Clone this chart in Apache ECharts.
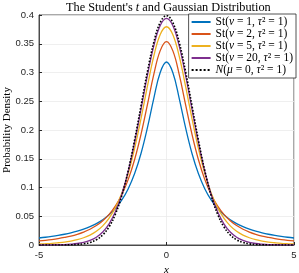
<!DOCTYPE html>
<html><head><meta charset="utf-8">
<script src="https://cdn.jsdelivr.net/npm/echarts@6/dist/echarts.min.js"></script>
<style>html,body{margin:0;padding:0;background:#fff}#c{width:299px;height:273px}</style>
</head><body><div id="c"></div>
<script>
var xs = [-5,-4.75,-4.5,-4.25,-4,-3.75,-3.5,-3.25,-3,-2.75,-2.5,-2.25,-2,-1.75,-1.5,-1.25,-1,-0.75,-0.5,-0.25,0,0.25,0.5,0.75,1,1.25,1.5,1.75,2,2.25,2.5,2.75,3,3.25,3.5,3.75,4,4.25,4.5,4.75,5];
var st1 = [0.0122,0.0135,0.0150,0.0167,0.0187,0.0211,0.0240,0.0275,0.0318,0.0372,0.0439,0.0525,0.0637,0.0784,0.0979,0.1242,0.1592,0.2037,0.2546,0.2996,0.3183,0.2996,0.2546,0.2037,0.1592,0.1242,0.0979,0.0784,0.0637,0.0525,0.0439,0.0372,0.0318,0.0275,0.0240,0.0211,0.0187,0.0167,0.0150,0.0135,0.0122];
var st2 = [0.0071,0.0082,0.0095,0.0111,0.0131,0.0155,0.0186,0.0225,0.0274,0.0338,0.0422,0.0533,0.0680,0.0878,0.1141,0.1487,0.1925,0.2438,0.2963,0.3376,0.3536,0.3376,0.2963,0.2438,0.1925,0.1487,0.1141,0.0878,0.0680,0.0533,0.0422,0.0338,0.0274,0.0225,0.0186,0.0155,0.0131,0.0111,0.0095,0.0082,0.0071];
var st5 = [0.0018,0.0023,0.0029,0.0039,0.0051,0.0069,0.0092,0.0126,0.0173,0.0239,0.0333,0.0466,0.0651,0.0905,0.1245,0.1679,0.2197,0.2757,0.3279,0.3657,0.3796,0.3657,0.3279,0.2757,0.2197,0.1679,0.1245,0.0905,0.0651,0.0466,0.0333,0.0239,0.0173,0.0126,0.0092,0.0069,0.0051,0.0039,0.0029,0.0023,0.0018];
var st20 = [0.0001,0.0001,0.0003,0.0005,0.0008,0.0015,0.0026,0.0046,0.0080,0.0136,0.0227,0.0369,0.0581,0.0883,0.1286,0.1788,0.2360,0.2944,0.3458,0.3813,0.3940,0.3813,0.3458,0.2944,0.2360,0.1788,0.1286,0.0883,0.0581,0.0369,0.0227,0.0136,0.0080,0.0046,0.0026,0.0015,0.0008,0.0005,0.0003,0.0001,0.0001];
var gauss = [0.0000,0.0000,0.0000,0.0000,0.0001,0.0004,0.0009,0.0020,0.0044,0.0091,0.0175,0.0317,0.0540,0.0863,0.1295,0.1826,0.2420,0.3011,0.3521,0.3867,0.3989,0.3867,0.3521,0.3011,0.2420,0.1826,0.1295,0.0863,0.0540,0.0317,0.0175,0.0091,0.0044,0.0020,0.0009,0.0004,0.0001,0.0000,0.0000,0.0000,0.0000];
var names = ['St1','St2','St5','St20','Norm'];
var labels = {
  St1: '{r|St(}{i|ν}{r| = 1, }{i|τ}{r|² = 1)}',
  St2: '{r|St(}{i|ν}{r| = 2, }{i|τ}{r|² = 1)}',
  St5: '{r|St(}{i|ν}{r| = 5, }{i|τ}{r|² = 1)}',
  St20: '{r|St(}{i|ν}{r| = 20, }{i|τ}{r|² = 1)}',
  Norm: '{i|N}{r|(}{i|μ}{r| = 0, }{i|τ}{r|² = 1)}'
};
var seriesData = [st1, st2, st5, st20, gauss];
var colors = ['#0072BD','#D95319','#EDB120','#7E2F8E','#000000'];
var yMax = 0.4;
var yTitle = 'Probability Density';

function pairs(ys){ return xs.map(function(x,i){ return [x, ys[i]]; }); }

var serif = 'Liberation Serif';
var chart = echarts.init(document.getElementById('c'), null, {renderer:'canvas'});
chart.setOption({
  animation: false,
  color: colors,
  title: {
    text: '{a|The Student\'s }{b|t}{a| and Gaussian Distribution}',
    left: 61, top: -3,
    textStyle: { fontWeight: 'normal', rich: {
      a: {fontFamily: serif, fontSize: 12.3, fontWeight: 'normal', color: '#000'},
      b: {fontFamily: serif, fontSize: 12.3, fontWeight: 'normal', fontStyle: 'italic', color: '#000'}
    }}
  },
  graphic: [{
    type: 'text', x: 7, y: 130, rotation: Math.PI / 2,
    style: { text: yTitle, font: '11px "Liberation Serif"', fill: '#000', align: 'center', verticalAlign: 'middle' }
  }],
  grid: { left: 39, right: 5, top: 15, bottom: 28, outerBoundsMode: 'none', containLabel: false, show: true, borderColor: '#262626', borderWidth: 0.8, backgroundColor: 'transparent' },
  legend: {
    orient: 'vertical', right: 3, top: 14,
    data: names,
    itemWidth: 19, itemHeight: 9, itemGap: 0,
    padding: [2, 3, 2, 2],
    borderColor: '#262626', borderWidth: 0.8, backgroundColor: '#fff',
    itemStyle: {opacity: 0},
    formatter: function(n){ return labels[n]; },
    textStyle: { rich: {
      r: {fontFamily: serif, fontSize: 11.5, lineHeight: 11.5, color: '#000'},
      i: {fontFamily: serif, fontSize: 11.5, lineHeight: 11.5, fontStyle: 'italic', color: '#000'}
    }}
  },
  xAxis: {
    type: 'value', min: -5, max: 5, interval: 5,
    name: 'x', nameLocation: 'middle', nameGap: 17,
    nameTextStyle: {fontFamily: serif, fontStyle: 'italic', fontSize: 11, color: '#000'},
    axisLine: {show: true, onZero: false, lineStyle: {color: '#262626', width: 0.8}},
    axisTick: {show: true, inside: true, length: 3, lineStyle: {color: '#262626'}},
    axisLabel: {fontFamily: 'Liberation Sans', fontSize: 9.5, color: '#262626', margin: 5},
    splitLine: {show: true, lineStyle: {color: '#ebebeb', width: 0.8}}
  },
  yAxis: {
    type: 'value', min: 0, max: yMax, interval: 0.05,
    axisLine: {show: true, onZero: false, lineStyle: {color: '#262626', width: 0.8}},
    axisTick: {show: true, inside: true, length: 3, lineStyle: {color: '#262626'}},
    axisLabel: {fontFamily: 'Liberation Sans', fontSize: 9.5, color: '#262626', margin: 5},
    splitLine: {show: true, lineStyle: {color: '#ebebeb', width: 0.8}}
  },
  series: names.map(function(n, k){
    return {
      name: n, type: 'line', data: pairs(seriesData[k]), smooth: 0.4,
      symbol: 'none', showSymbol: false,
      lineStyle: k === 4 ? {color: '#000', width: 1.6, type: 'dotted'} : {color: colors[k], width: 1.3},
      z: k === 4 ? 5 : 2
    };
  })
});
</script></body></html>
